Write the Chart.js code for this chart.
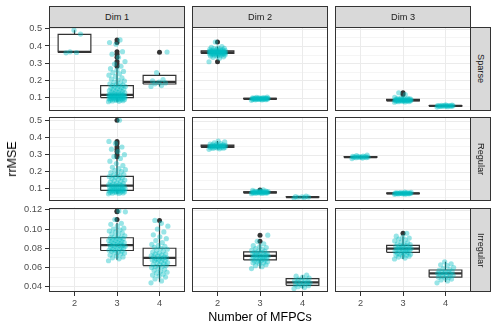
<!DOCTYPE html>
<html>
<head>
<meta charset="utf-8">
<script src="https://cdn.jsdelivr.net/npm/chart.js@4/dist/chart.umd.min.js"></script>
<style>
  body { margin: 0; background: #fff; font-family: "Liberation Sans", Arial, sans-serif; }
  #wrap { position: relative; width: 498px; height: 332px; overflow: hidden; }
  #wrap canvas { position: absolute; }
  .strip { position: absolute; background: #D9D9D9; border: 1px solid #333; box-sizing: border-box;
           font-size: 9.2px; color: #1A1A1A; display: flex; align-items: center; justify-content: center; }
  .strip.side span { writing-mode: vertical-rl; }
  .title { position: absolute; font-size: 12.5px; color: #000; white-space: nowrap; }
</style>
</head>
<body>
<div id="wrap"></div>
<script>
// facets
const dims = ["Dim 1", "Dim 2", "Dim 3"];
const designs = ["Sparse", "Regular", "Irregular"];
const nMfpc = [2, 3, 4];

// y ticks per row
const sparseTicks = [0.1, 0.2, 0.3, 0.4, 0.5];
const regularTicks = [0.1, 0.2, 0.3, 0.4, 0.5];
const irregularTicks = [0.04, 0.06, 0.08, 0.10, 0.12];
const sparseRange = [0.025, 0.513];
const regularRange = [0.031, 0.524];
const irregularRange = [0.0344, 0.1225];

// rrMSE values per group
// box = [lower whisker, q1, median, q3, upper whisker]
const s1k2 = [0.360, 0.362, 0.366, 0.469, 0.492];
const s1k2Box = [0.360, 0.362, 0.366, 0.467, 0.492];
const s1k2Out = [];

const s1k3 = [0.076,0.078,0.080,0.082,0.083,0.085,0.086,0.088,0.089,0.090,0.091,0.092,0.093,0.094,0.095,0.096,0.097,0.098,0.099,0.100,
  0.101,0.102,0.103,0.104,0.105,0.106,0.107,0.108,0.109,0.110,0.111,0.112,0.113,0.114,0.115,0.116,0.117,0.118,0.119,0.120,
  0.122,0.125,0.127,0.130,0.132,0.135,0.138,0.140,0.143,0.146,0.149,0.152,0.155,0.158,0.161,0.164,0.167,0.170,0.172,0.175,
  0.180,0.185,0.190,0.196,0.202,0.208,0.215,0.222,0.230,0.238,0.245,0.252,0.260,0.268,
  0.282,0.295,0.309,0.334,0.352,0.367,0.410,0.420,0.435];
const s1k3Box = [0.076, 0.100, 0.116, 0.170, 0.270];
const s1k3Out = [0.282, 0.295, 0.309, 0.334, 0.352, 0.367, 0.420, 0.435];

const s1k4 = [0.165, 0.170, 0.180, 0.185, 0.190, 0.197, 0.205, 0.245, 0.365];
const s1k4Box = [0.165, 0.179, 0.191, 0.229, 0.245];
const s1k4Out = [0.364];

const s2k2 = [0.311,0.332,0.337,0.340,0.343,0.345,0.347,0.349,0.350,0.352,0.353,0.354,0.355,0.356,0.357,0.358,0.358,0.359,0.360,0.361,
  0.361,0.362,0.363,0.363,0.364,0.365,0.365,0.366,0.366,0.367,0.367,0.368,0.369,0.369,0.370,0.371,0.371,0.372,0.373,0.374,
  0.374,0.375,0.376,0.377,0.378,0.380,0.381,0.383,0.385,0.387,0.389,0.392,0.395,0.399,0.426];
const s2k2Box = [0.332, 0.359, 0.366, 0.374, 0.399];
const s2k2Out = [0.311, 0.426];

const s2k3 = [0.087,0.089,0.090,0.091,0.092,0.092,0.093,0.093,0.094,0.094,0.095,0.095,0.095,0.096,0.096,0.096,0.097,0.097,0.097,0.098,
  0.098,0.099,0.099,0.100,0.100,0.101,0.102,0.103,0.104,0.106];
const s2k3Box = [0.087, 0.094, 0.096, 0.099, 0.106];
const s2k3Out = [];

const s3k3 = [0.076,0.078,0.079,0.080,0.081,0.082,0.083,0.083,0.084,0.084,0.085,0.085,0.086,0.086,0.087,0.087,0.088,0.088,0.088,0.089,
  0.089,0.090,0.090,0.091,0.091,0.092,0.092,0.093,0.094,0.095,0.096,0.097,0.099,0.101,0.104,0.121,0.131];
const s3k3Box = [0.076, 0.084, 0.088, 0.092, 0.104];
const s3k3Out = [0.121, 0.131];

const s3k4 = [0.048,0.050,0.051,0.052,0.053,0.053,0.054,0.054,0.055,0.055,0.055,0.056,0.056,0.057,0.057,0.058,0.059,0.061];
const s3k4Box = [0.048, 0.053, 0.055, 0.057, 0.061];
const s3k4Out = [];

const r1k3 = [0.070,0.072,0.074,0.075,0.077,0.078,0.080,0.081,0.082,0.084,0.085,0.086,0.087,0.088,0.089,0.090,0.091,0.092,0.094,0.095,
  0.097,0.099,0.101,0.103,0.105,0.107,0.109,0.111,0.113,0.115,0.117,0.118,0.119,0.121,0.123,0.126,0.129,0.132,0.135,0.139,
  0.143,0.147,0.151,0.155,0.159,0.163,0.167,0.171,0.174,0.178,0.183,0.188,0.194,0.200,0.206,0.212,0.218,0.226,0.236,0.248,
  0.262,0.278,0.288,0.300,0.318,0.332,0.345,0.366,0.378,0.502];
const r1k3Box = [0.070, 0.090, 0.118, 0.173, 0.278];
const r1k3Out = [0.288, 0.300, 0.318, 0.332, 0.345, 0.366, 0.378, 0.502];

const r2k2 = [0.334,0.337,0.339,0.341,0.342,0.343,0.344,0.345,0.346,0.347,0.348,0.349,0.350,0.351,0.352,0.352,0.353,0.354,0.355,0.356,
  0.357,0.358,0.359,0.360,0.361,0.363,0.365,0.368,0.372,0.378,0.383];
const r2k2Box = [0.334, 0.346, 0.352, 0.359, 0.383];
const r2k2Out = [];

const r2k3 = [0.074,0.075,0.076,0.077,0.078,0.078,0.079,0.079,0.080,0.080,0.081,0.081,0.082,0.082,0.082,0.083,0.083,0.084,0.084,0.085,
  0.085,0.086,0.087,0.088,0.089,0.091,0.093,0.096];
const r2k3Box = [0.074, 0.079, 0.082, 0.085, 0.093];
const r2k3Out = [0.096];

const r2k4 = [0.048, 0.051, 0.053, 0.054, 0.055, 0.057, 0.060];
const r2k4Box = [0.051, 0.053, 0.054, 0.055, 0.057];
const r2k4Out = [];

const r3k2 = [0.280,0.283,0.285,0.286,0.287,0.288,0.288,0.289,0.289,0.290,0.290,0.291,0.292,0.293,0.295,0.298,0.301];
const r3k2Box = [0.280, 0.287, 0.289, 0.291, 0.298];
const r3k2Out = [];

const r3k3 = [0.070,0.071,0.072,0.073,0.073,0.074,0.074,0.075,0.075,0.075,0.076,0.076,0.076,0.077,0.077,0.077,0.078,0.078,0.079,0.080,
  0.081,0.082,0.083];
const r3k3Box = [0.070, 0.074, 0.076, 0.078, 0.083];
const r3k3Out = [];

const i1k3 = [0.067,0.069,0.070,0.071,0.072,0.073,0.074,0.075,0.075,0.076,0.077,0.077,0.078,0.078,0.079,0.079,0.080,0.080,0.081,0.081,
  0.082,0.082,0.083,0.083,0.083,0.084,0.084,0.085,0.085,0.086,0.086,0.087,0.087,0.088,0.088,0.089,0.089,0.090,0.090,0.091,
  0.091,0.092,0.093,0.094,0.095,0.096,0.097,0.098,0.099,0.100,0.101,0.103,0.105,0.106,0.110,0.118,0.119];
const i1k3Box = [0.068, 0.0777, 0.0833, 0.091, 0.1067];
const i1k3Out = [0.110, 0.118, 0.119];

const i1k4 = [0.044,0.046,0.048,0.050,0.051,0.052,0.053,0.054,0.055,0.056,0.057,0.058,0.059,0.060,0.061,0.061,0.062,0.063,0.063,0.064,
  0.065,0.065,0.066,0.067,0.067,0.068,0.068,0.069,0.069,0.070,0.070,0.071,0.071,0.072,0.072,0.073,0.074,0.074,0.075,0.076,
  0.077,0.078,0.079,0.080,0.081,0.082,0.083,0.084,0.086,0.088,0.090,0.092,0.094,0.097,0.100,0.103,0.106,0.109];
const i1k4Box = [0.045, 0.062, 0.070, 0.080, 0.107];
const i1k4Out = [0.109];

const i2k3 = [0.059,0.061,0.062,0.063,0.064,0.065,0.065,0.066,0.066,0.067,0.067,0.068,0.068,0.069,0.069,0.070,0.070,0.070,0.071,0.071,
  0.072,0.072,0.072,0.073,0.073,0.073,0.074,0.074,0.075,0.075,0.076,0.076,0.077,0.077,0.078,0.079,0.080,0.081,0.082,0.083,
  0.085,0.0875,0.094];
const i2k3Box = [0.059, 0.068, 0.0722, 0.0764, 0.085];
const i2k3Out = [0.0875, 0.094];

const i2k4 = [0.038,0.039,0.040,0.041,0.041,0.042,0.043,0.043,0.044,0.044,0.045,0.045,0.046,0.046,0.047,0.048,0.049,0.050,0.051,0.052];
const i2k4Box = [0.038, 0.0414, 0.0445, 0.0484, 0.052];
const i2k4Out = [];

const i3k3 = [0.069,0.070,0.071,0.072,0.072,0.073,0.073,0.074,0.074,0.075,0.075,0.076,0.076,0.077,0.077,0.078,0.078,0.078,0.079,0.079,
  0.080,0.080,0.080,0.081,0.081,0.082,0.082,0.083,0.083,0.084,0.084,0.085,0.086,0.087,0.088,0.089,0.090,0.091,0.092,0.093,0.096];
const i3k3Box = [0.069, 0.076, 0.0798, 0.0833, 0.093];
const i3k3Out = [0.096];

const i3k4 = [0.044,0.046,0.047,0.048,0.049,0.050,0.050,0.051,0.052,0.052,0.053,0.053,0.054,0.054,0.055,0.055,0.056,0.056,0.057,0.058,
  0.059,0.060,0.062,0.063,0.064,0.066];
const i3k4Box = [0.045, 0.050, 0.054, 0.0575, 0.066];
const i3k4Out = [];

// panel contents: [row][col] -> list of groups
const panels = [
  [
    [{ k: 2, pts: s1k2, box: s1k2Box, out: s1k2Out }, { k: 3, pts: s1k3, box: s1k3Box, out: s1k3Out }, { k: 4, pts: s1k4, box: s1k4Box, out: s1k4Out }],
    [{ k: 2, pts: s2k2, box: s2k2Box, out: s2k2Out }, { k: 3, pts: s2k3, box: s2k3Box, out: s2k3Out }],
    [{ k: 3, pts: s3k3, box: s3k3Box, out: s3k3Out }, { k: 4, pts: s3k4, box: s3k4Box, out: s3k4Out }]
  ],
  [
    [{ k: 3, pts: r1k3, box: r1k3Box, out: r1k3Out }],
    [{ k: 2, pts: r2k2, box: r2k2Box, out: r2k2Out }, { k: 3, pts: r2k3, box: r2k3Box, out: r2k3Out }, { k: 4, pts: r2k4, box: r2k4Box, out: r2k4Out }],
    [{ k: 2, pts: r3k2, box: r3k2Box, out: r3k2Out }, { k: 3, pts: r3k3, box: r3k3Box, out: r3k3Out }]
  ],
  [
    [{ k: 3, pts: i1k3, box: i1k3Box, out: i1k3Out }, { k: 4, pts: i1k4, box: i1k4Box, out: i1k4Out }],
    [{ k: 3, pts: i2k3, box: i2k3Box, out: i2k3Out }, { k: 4, pts: i2k4, box: i2k4Box, out: i2k4Out }],
    [{ k: 3, pts: i3k3, box: i3k3Box, out: i3k3Out }, { k: 4, pts: i3k4, box: i3k4Box, out: i3k4Out }]
  ]
];
const rowTicks = [sparseTicks, regularTicks, irregularTicks];
const rowRange = [sparseRange, regularRange, irregularRange];
const rowDecimals = [1, 1, 2];

// layout
const PANEL_X = [49, 192, 335], PANEL_Y = [27, 117, 208];
const PW = 136, PH = 84, Y_AXIS_W = 49, X_AXIS_H = 24;
const HALF_BOX = 0.385, JITTER = 0.2;
const FONT = "'Liberation Sans', Arial, sans-serif";
const CYAN = "rgba(0,191,196,0.4)", DARK = "#333333";

const wrap = document.getElementById("wrap");

// spread points sideways like geom_jitter (fixed pattern, not random)
function jit(i) {
  return (((i * 0.6180339887) % 1) - 0.5) * 2 * JITTER;
}

const panelBorder = {
  id: "panelBorder",
  afterDraw(chart) {
    const { ctx, chartArea: a } = chart;
    ctx.save();
    ctx.strokeStyle = DARK;
    ctx.lineWidth = 1;
    ctx.strokeRect(Math.round(a.left) + 0.5, Math.round(a.top) + 0.5, Math.round(a.width) - 1, Math.round(a.height) - 1);
    ctx.restore();
  }
};

function groupDatasets(g) {
  const [lo, q1, med, q3, hi] = g.box;
  const x0 = g.k - HALF_BOX, x1 = g.k + HALF_BOX;
  const line = { showLine: true, pointRadius: 0, borderColor: DARK, borderJoinStyle: "miter" };
  return [
    { ...line, order: 6, borderWidth: 1.2, data: [{ x: g.k, y: lo }, { x: g.k, y: q1 }, { x: g.k, y: null }, { x: g.k, y: q3 }, { x: g.k, y: hi }], spanGaps: false },
    { ...line, order: 5, borderWidth: 1.2, backgroundColor: "#fff", fill: "shape",
      data: [{ x: x0, y: q1 }, { x: x1, y: q1 }, { x: x1, y: q3 }, { x: x0, y: q3 }, { x: x0, y: q1 }] },
    { ...line, order: 4, borderWidth: 2.3, data: [{ x: x0, y: med }, { x: x1, y: med }] },
    { order: 3, showLine: false, pointRadius: 2.5, pointBackgroundColor: DARK, pointBorderWidth: 0,
      data: g.out.map(v => ({ x: g.k, y: v })) },
    { order: 1, showLine: false, pointRadius: 2.6, pointBackgroundColor: CYAN, pointBorderWidth: 0,
      data: g.pts.map((v, i) => ({ x: g.k + jit(i), y: v })) }
  ];
}

function buildChart(r, c, cw, ch) {
  const left = c === 0, bottom = r === 2;
  const canvas = document.createElement("canvas");
  canvas.width = cw; canvas.height = ch;
  canvas.style.width = cw + "px"; canvas.style.height = ch + "px";
  wrap.appendChild(canvas);

  const major = rowTicks[r];
  const minor = major.slice(0, -1).map((v, i) => (v + major[i + 1]) / 2);
  minor.unshift(major[0] - (major[1] - major[0]) / 2);
  const [yMin, yMax] = rowRange[r];
  const yTicks = major.concat(minor).filter(v => v > yMin && v < yMax).sort((a, b) => a - b);
  const isMajor = v => major.some(m => Math.abs(m - v) < 1e-9);

  return new Chart(canvas, {
    type: "scatter",
    data: { datasets: panels[r][c].flatMap(groupDatasets) },
    options: {
      responsive: false,
      animation: false,
      events: [],
      layout: { padding: 0 },
      plugins: { legend: { display: false }, tooltip: { enabled: false } },
      scales: {
        x: {
          type: "linear", min: 1.4, max: 4.6,
          afterBuildTicks: s => { s.ticks = nMfpc.map(v => ({ value: v })); },
          afterFit: s => { s.height = bottom ? X_AXIS_H : 0; },
          border: { display: false },
          grid: { color: "#EBEBEB", lineWidth: 1, drawTicks: bottom, tickLength: 4, tickColor: DARK },
          ticks: { display: bottom, color: "#4D4D4D", font: { family: FONT, size: 9.2 }, padding: 2,
                   maxRotation: 0, autoSkip: false, callback: v => String(v) }
        },
        y: {
          type: "linear", min: yMin, max: yMax,
          afterBuildTicks: s => { s.ticks = yTicks.map(v => ({ value: v })); },
          afterFit: s => { s.width = left ? Y_AXIS_W : 0; },
          border: { display: false },
          grid: {
            color: "#EBEBEB",
            lineWidth: ctx => (ctx.tick && isMajor(ctx.tick.value) ? 1 : 0.5),
            drawTicks: left, tickLength: 4,
            tickColor: ctx => (ctx.tick && isMajor(ctx.tick.value) ? DARK : "rgba(0,0,0,0)")
          },
          ticks: { display: left, color: "#4D4D4D", font: { family: FONT, size: 9.2 }, padding: 3, autoSkip: false,
                   callback: v => (isMajor(v) ? v.toFixed(rowDecimals[r]) : "") }
        }
      }
    },
    plugins: [panelBorder]
  });
}

// build once, measure the plot area, rebuild so it lands exactly on the panel box
function makePanel(r, c) {
  let cw = PW + (c === 0 ? Y_AXIS_W : 0) + 20, ch = PH + (r === 2 ? X_AXIS_H : 0) + 20;
  let chart = buildChart(r, c, cw, ch);
  for (let pass = 0; pass < 2; pass++) {
    const a = chart.chartArea;
    const dw = PW - (a.right - a.left), dh = PH - (a.bottom - a.top);
    if (Math.abs(dw) < 0.01 && Math.abs(dh) < 0.01) break;
    cw = Math.round(cw + dw); ch = Math.round(ch + dh);
    const old = chart.canvas;
    chart.destroy(); old.remove();
    chart = buildChart(r, c, cw, ch);
  }
  const a = chart.chartArea;
  chart.canvas.style.left = (PANEL_X[c] - a.left) + "px";
  chart.canvas.style.top = (PANEL_Y[r] - a.top) + "px";
}

for (let r = 0; r < 3; r++) for (let c = 0; c < 3; c++) makePanel(r, c);

// strips
dims.forEach((d, c) => {
  const s = document.createElement("div");
  s.className = "strip";
  Object.assign(s.style, { left: PANEL_X[c] + "px", top: "6px", width: PW + "px", height: "22px" });
  s.textContent = d;
  wrap.appendChild(s);
});
designs.forEach((d, r) => {
  const s = document.createElement("div");
  s.className = "strip side";
  Object.assign(s.style, { left: (PANEL_X[2] + PW - 1) + "px", top: PANEL_Y[r] + "px", width: "21px", height: PH + "px" });
  s.innerHTML = "<span>" + d + "</span>";
  wrap.appendChild(s);
});

// axis titles
const yt = document.createElement("div");
yt.className = "title";
yt.textContent = "rrMSE";
Object.assign(yt.style, { left: "12px", top: "159px", transform: "translate(-50%,-50%) rotate(-90deg)" });
wrap.appendChild(yt);
const xt = document.createElement("div");
xt.className = "title";
xt.textContent = "Number of MFPCs";
Object.assign(xt.style, { left: "260px", top: "317px", transform: "translate(-50%,-50%)" });
wrap.appendChild(xt);
</script>
</body>
</html>
